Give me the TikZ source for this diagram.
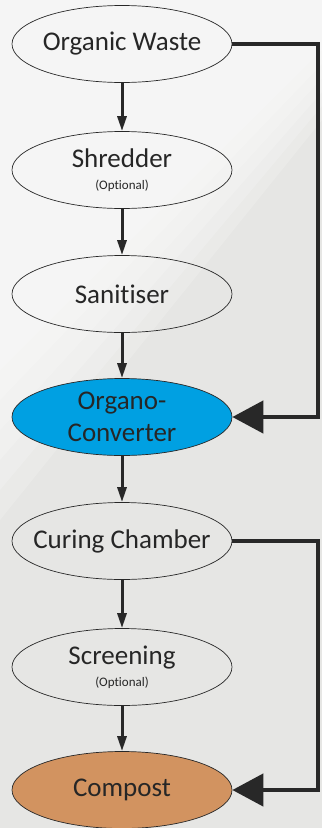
\documentclass[tikz,border=0pt]{standalone}
\usepackage{fontspec}
\setmainfont[Ligatures=NoCommon]{Carlito}
\usetikzlibrary{shapes.geometric,arrows.meta}
\definecolor{bggray}{RGB}{230,230,228}
\definecolor{ink}{RGB}{40,40,40}
\definecolor{txt}{RGB}{38,38,38}
\definecolor{blueconv}{RGB}{0,160,226}
\definecolor{compostc}{RGB}{210,147,96}
\tikzset{
  stage/.style={ellipse, draw=ink, line width=0.7pt, minimum width=220pt, minimum height=77pt, inner xsep=-30pt, inner ysep=-14pt, text=txt, font=\fontsize{27}{32}\selectfont, align=center},
  flow/.style={draw=ink, line width=3pt, -{Triangle[length=15pt,width=9pt]}},
  bypass/.style={draw=ink, line width=4.5pt, -{Triangle[length=31pt,width=32pt]}}
}
\newcommand{\optnote}{{\fontsize{13}{14}\selectfont (Optional)}}
\begin{document}
\begin{tikzpicture}[x=1pt,y=-1pt]
\useasboundingbox (0,0) rectangle (322,828);
\fill[bggray] (0,0) rectangle (322,828);
\foreach \k in {0,1,2,3,4,5} {
  \fill[white, opacity=0.18] (0,0) -- (322,0) -- (322,{120-\k*14}) -- (0,{520-\k*30}) -- cycle;
}
\node[stage] (ow) at (122,44) {Organic Waste};
\node[stage] (sh) at (122,170) {Shredder\\[-10pt]\optnote};
\node[stage] (sa) at (122,294) {Sanitiser};
\node[stage, fill=blueconv] (oc) at (122,417) {Organo-\\Converter};
\node[stage] (cc) at (122,541) {Curing Chamber};
\node[stage] (sc) at (122,667) {Screening\\[-10pt]\optnote};
\node[stage, fill=compostc] (co) at (122,790) {Compost};
\coordinate (r1) at (318,44);
\coordinate (r2) at (318,417);
\coordinate (r3) at (318,541);
\coordinate (r4) at (318,790);
\draw[flow] (ow) -- (sh);
\draw[flow] (sh) -- (sa);
\draw[flow] (sa) -- (oc);
\draw[flow] (oc) -- (cc);
\draw[flow] (cc) -- (sc);
\draw[flow] (sc) -- (co);
\draw[bypass] (ow.east) -- (r1) -- (r2) -- (oc.east);
\draw[bypass] (cc.east) -- (r3) -- (r4) -- (co.east);
\end{tikzpicture}
\end{document}
